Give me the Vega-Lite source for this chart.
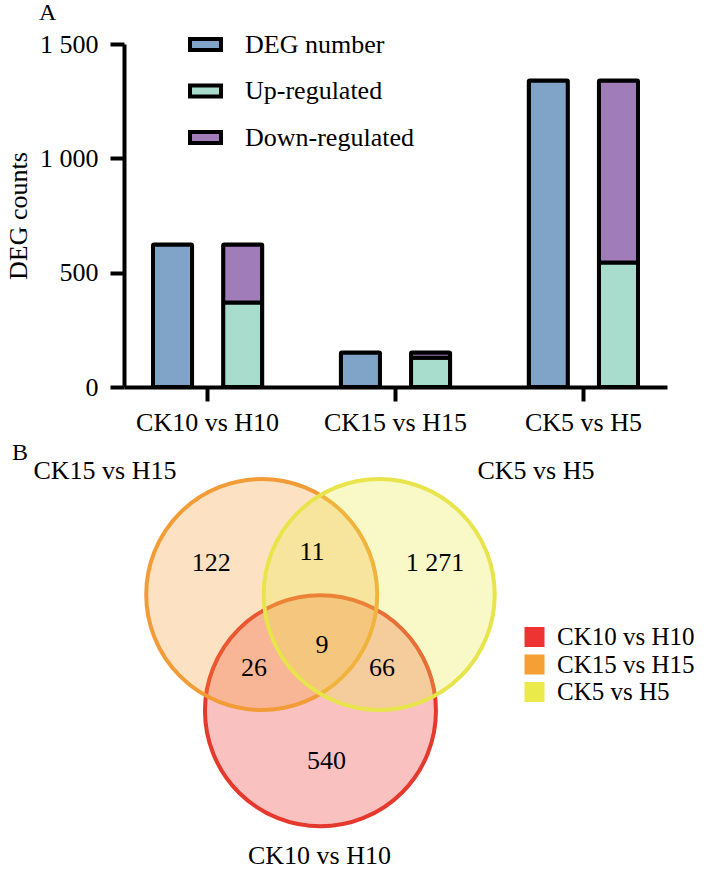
{
  "$schema": "https://vega.github.io/schema/vega-lite/v6.json",
  "padding": {"left": 5, "top": 1, "right": 5, "bottom": 0},
  "spacing": 6,
  "config": {
    "view": {"stroke": null},
    "font": "Liberation Serif, Tinos, Times New Roman, serif",
    "title": {"anchor": "start", "frame": "group", "fontSize": 24, "fontWeight": "normal", "font": "Liberation Serif, Tinos, Times New Roman, serif", "color": "black"}
  },
  "datasets": {
    "bars": [
      {"cmp": "CK10 vs H10", "grp": "DEG", "type": "DEG number", "n": 623, "ord": 0},
      {"cmp": "CK10 vs H10", "grp": "REG", "type": "Up-regulated", "n": 370, "ord": 1},
      {"cmp": "CK10 vs H10", "grp": "REG", "type": "Down-regulated", "n": 253, "ord": 2},
      {"cmp": "CK15 vs H15", "grp": "DEG", "type": "DEG number", "n": 151, "ord": 0},
      {"cmp": "CK15 vs H15", "grp": "REG", "type": "Up-regulated", "n": 128, "ord": 1},
      {"cmp": "CK15 vs H15", "grp": "REG", "type": "Down-regulated", "n": 23, "ord": 2},
      {"cmp": "CK5 vs H5", "grp": "DEG", "type": "DEG number", "n": 1340, "ord": 0},
      {"cmp": "CK5 vs H5", "grp": "REG", "type": "Up-regulated", "n": 544, "ord": 1},
      {"cmp": "CK5 vs H5", "grp": "REG", "type": "Down-regulated", "n": 796, "ord": 2}
    ],
    "sets": [
      {"set": "CK10 vs H10", "cx": 0, "cy": -0.99},
      {"set": "CK15 vs H15", "cx": -0.5, "cy": 0},
      {"set": "CK5 vs H5", "cx": 0.5, "cy": 0}
    ],
    "counts": [
      {"label": "122", "cx": -0.93, "cy": 0.2},
      {"label": "11", "cx": -0.072, "cy": 0.295},
      {"label": "1 271", "cx": 0.974, "cy": 0.2},
      {"label": "9", "cx": 0.013, "cy": -0.498},
      {"label": "26", "cx": -0.566, "cy": -0.694},
      {"label": "66", "cx": 0.523, "cy": -0.694},
      {"label": "540", "cx": 0.051, "cy": -1.485}
    ],
    "setlabels": [
      {"label": "CK15 vs H15", "cx": -1.834, "cy": 0.983},
      {"label": "CK5 vs H5", "cx": 1.834, "cy": 0.983},
      {"label": "CK10 vs H10", "cx": -0.009, "cy": -2.294}
    ]
  },
  "vconcat": [
    {
      "width": 543,
      "height": 343,
      "title": {"text": "A", "dx": -85, "offset": 2, "fontSize": 24},
      "data": {"name": "bars"},
      "mark": {"type": "bar", "stroke": "black", "strokeWidth": 4, "cornerRadius": 1},
      "encoding": {
        "x": {
          "field": "cmp", "type": "nominal",
          "sort": ["CK10 vs H10", "CK15 vs H15", "CK5 vs H5"],
          "scale": {"paddingInner": 0.25, "paddingOuter": 0.07},
          "axis": {"title": null, "labelAngle": 0, "domainColor": "black", "domainWidth": 4, "tickColor": "black", "tickWidth": 4, "tickSize": 14, "labelPadding": 8, "labelFontSize": 26, "labelColor": "black", "labelFont": "Liberation Serif, Tinos, Times New Roman, serif", "labelLimit": 0}
        },
        "xOffset": {"field": "grp", "type": "nominal", "sort": ["DEG", "REG"], "scale": {"paddingInner": 0.443, "paddingOuter": 0.226}},
        "y": {
          "field": "n", "type": "quantitative", "stack": "zero",
          "scale": {"domain": [0, 1500], "nice": false},
          "axis": {"values": [0, 500, 1000, 1500], "labelExpr": "replace(format(datum.value, ','), ',', ' ')", "title": "DEG counts", "grid": false, "domainColor": "black", "domainWidth": 4, "tickColor": "black", "tickWidth": 4, "tickSize": 14, "labelPadding": 12, "labelFontSize": 26, "labelColor": "black", "labelFont": "Liberation Serif, Tinos, Times New Roman, serif", "titleFont": "Liberation Serif, Tinos, Times New Roman, serif", "titleFontSize": 26, "titleFontWeight": "normal", "titleColor": "black", "titlePadding": 8}
        },
        "color": {
          "field": "type", "type": "nominal",
          "scale": {"domain": ["DEG number", "Up-regulated", "Down-regulated"], "range": ["#80a4c8", "#a8dccc", "#a07cb8"]},
          "legend": {"orient": "none", "legendX": 64, "legendY": -17, "title": null, "padding": 0, "symbolType": "M-1,-0.355H1V0.355H-1Z", "symbolSize": 961, "symbolStrokeColor": "black", "symbolStrokeWidth": 4, "labelFontSize": 26, "labelFont": "Liberation Serif, Tinos, Times New Roman, serif", "labelColor": "black", "labelOffset": 22, "labelLimit": 0, "rowPadding": 14.5}
        },
        "order": {"field": "ord"}
      }
    },
    {
      "width": 560,
      "height": 402,
      "title": {"text": "B", "dx": -112, "offset": -7, "fontSize": 24},
      "layer": [
        {
          "data": {"name": "sets"},
          "mark": {"type": "point", "shape": "circle", "size": 53361, "filled": true, "fillOpacity": 0.3, "strokeOpacity": 1, "opacity": 1, "strokeWidth": 4},
          "encoding": {
            "x": {"field": "cx", "type": "quantitative", "scale": {"domain": [-1.672, 3.094], "nice": false, "zero": false}, "axis": null},
            "y": {"field": "cy", "type": "quantitative", "scale": {"domain": [-2.328, 1.094], "nice": false, "zero": false}, "axis": null},
            "color": {
              "field": "set", "type": "nominal",
              "scale": {"domain": ["CK10 vs H10", "CK15 vs H15", "CK5 vs H5"], "range": ["#ee3333", "#f5a035", "#eaea4a"]},
              "legend": {"orient": "none", "legendX": 398, "legendY": 158.5, "title": null, "padding": 0, "symbolType": "square", "symbolSize": 400, "symbolStrokeWidth": 0, "symbolOpacity": 1, "labelFontSize": 25, "labelFont": "Liberation Serif, Tinos, Times New Roman, serif", "labelColor": "black", "labelOffset": 10, "labelLimit": 0, "rowPadding": 1.5,
                "encode": {"symbols": {"update": {"fillOpacity": {"value": 1}, "opacity": {"value": 1}, "strokeWidth": {"value": 0}}}}}
            },
            "stroke": {"field": "set", "type": "nominal", "scale": {"domain": ["CK10 vs H10", "CK15 vs H15", "CK5 vs H5"], "range": ["#e6392e", "#f29c38", "#e8e44c"]}, "legend": null}
          }
        },
        {
          "data": {"name": "counts"},
          "mark": {"type": "text", "font": "Liberation Serif, Tinos, Times New Roman, serif", "fontSize": 26, "baseline": "alphabetic", "align": "center", "color": "black"},
          "encoding": {
            "x": {"field": "cx", "type": "quantitative"},
            "y": {"field": "cy", "type": "quantitative"},
            "text": {"field": "label"}
          }
        },
        {
          "data": {"name": "setlabels"},
          "mark": {"type": "text", "font": "Liberation Serif, Tinos, Times New Roman, serif", "fontSize": 26, "baseline": "alphabetic", "align": "center", "color": "black"},
          "encoding": {
            "x": {"field": "cx", "type": "quantitative"},
            "y": {"field": "cy", "type": "quantitative"},
            "text": {"field": "label"}
          }
        }
      ]
    }
  ],
  "resolve": {"scale": {"color": "independent"}, "legend": {"color": "independent"}}
}
